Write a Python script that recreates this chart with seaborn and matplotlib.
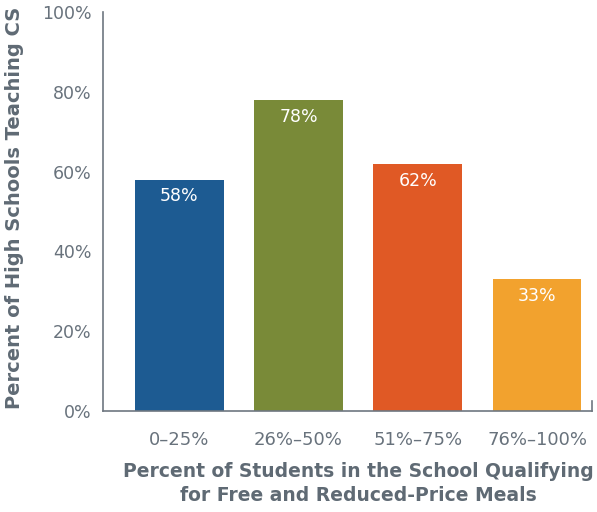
import pandas as pd
import seaborn as sns
import matplotlib.pyplot as plt

# Data
categories = ['0–25%', '26%–50%', '51%–75%', '76%–100%']
values = [58, 78, 62, 33]
bar_colors = ['#1d5b92', '#798a38', '#e05925', '#f2a22e']
y_ticks = [0, 20, 40, 60, 80, 100]

df = pd.DataFrame({'group': categories, 'pct': values})

sns.set_style('white')
plt.rcParams['font.family'] = ['DejaVu Sans']

gray = '#5f6a74'
line_gray = '#6e7780'

fig = plt.figure(figsize=(5.97, 5.12), dpi=100)
ax = fig.add_axes([0.1725, 0.197, 0.819, 0.78])

sns.barplot(x='group', y='pct', data=df, hue='group', palette=bar_colors,
            legend=False, width=0.745, saturation=1, linewidth=0, ax=ax)

# value labels inside the top of each bar
for i, v in enumerate(values):
    ax.text(i, v - 2, f'{v}%', ha='center', va='top', color='white', fontsize=12.5)

ax.set_xlim(-0.64, 3.46)
ax.set_ylim(0, 100)
ax.set_yticks(y_ticks)
ax.set_yticklabels([f'{t}%' for t in y_ticks], color='#68727c', fontsize=12.5)
ax.tick_params(axis='y', direction='in', length=9, width=1, color=line_gray, pad=8)
ax.tick_params(axis='x', length=0, labelsize=13, labelcolor='#68727c', pad=14)

ax.spines['top'].set_visible(False)
ax.spines['right'].set_bounds(0, 2.6)
for s in ['left', 'bottom', 'right']:
    ax.spines[s].set_color(line_gray)
    ax.spines[s].set_linewidth(1.2)

ax.set_xlabel('')
ax.set_ylabel('')
fig.text(0.6, 0.056, 'Percent of Students in the School Qualifying\nfor Free and Reduced-Price Meals',
         ha='center', va='center', fontsize=13.5, fontweight='bold', color=gray, linespacing=1.35)
fig.text(0.024, 0.594, 'Percent of High Schools Teaching CS', rotation=90,
         ha='center', va='center', fontsize=14, fontweight='bold', color=gray)

plt.savefig('out.png', dpi=100)
